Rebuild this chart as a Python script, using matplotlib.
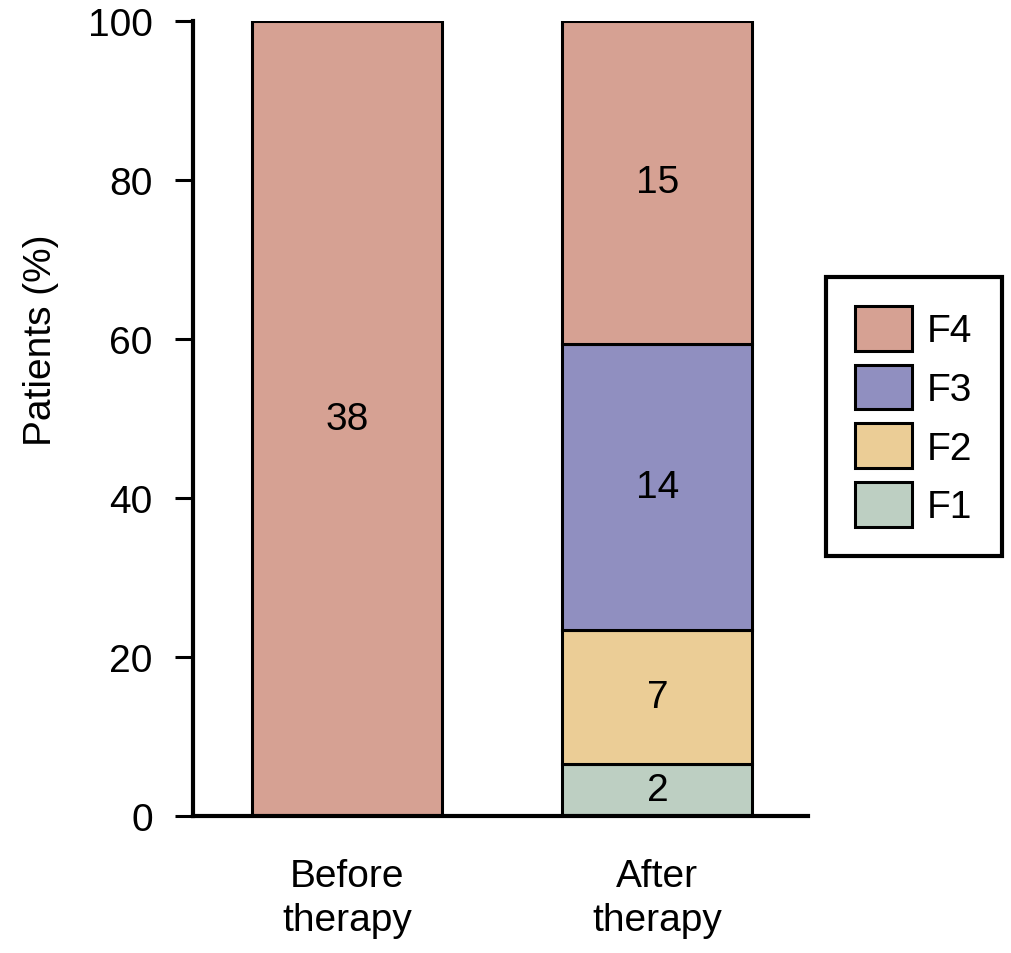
import matplotlib
matplotlib.use("Agg")
import matplotlib.pyplot as plt

# data
groups = ["Before\ntherapy", "After\ntherapy"]
stages = ["F1", "F2", "F3", "F4"]
# percent of patients per stage (bottom to top)
before_pct = [0, 0, 0, 100]
after_pct = [6.5, 16.9, 36.0, 40.6]
# patient counts shown inside the segments
before_n = [0, 0, 0, 38]
after_n = [2, 7, 14, 15]
colors = ["#bdcfc2", "#ebcd96", "#908fc0", "#d6a193"]
yticks = [0, 20, 40, 60, 80, 100]

plt.rcParams['font.family'] = ['Liberation Sans', 'DejaVu Sans']
fs = 28

fig = plt.figure(figsize=(10.11, 9.54), dpi=100)
ax = fig.add_axes([0.1909, 0.1436, 0.6083, 0.8333])

x = [0, 1]
width = 0.612
handles = []
bottoms = [0, 0]
for i, st in enumerate(stages):
    vals = [before_pct[i], after_pct[i]]
    counts = [before_n[i], after_n[i]]
    bars = ax.bar(x, vals, width, bottom=bottoms, color=colors[i],
                  edgecolor="black", linewidth=2.2, label=st, zorder=2)
    handles.append(bars)
    for j in range(2):
        if counts[j] > 0:
            ax.text(x[j], bottoms[j] + vals[j] / 2, str(counts[j]),
                    ha="center", va="center", fontsize=fs)
    bottoms = [bottoms[k] + vals[k] for k in range(2)]

ax.set_xlim(-0.496, 1.485)
ax.set_ylim(0, 100)
ax.set_yticks(yticks)
ax.set_xticks(x)
ax.set_xticklabels(groups, fontsize=fs, linespacing=1.3)
ax.tick_params(axis="x", length=0, pad=30)
ax.tick_params(axis="y", labelsize=fs, length=13, width=2.2, pad=16)
ax.set_ylabel("Patients (%)", fontsize=fs)
ax.yaxis.set_label_coords(-0.218, 0.6)

for side in ["top", "right"]:
    ax.spines[side].set_visible(False)
ax.spines["left"].set_linewidth(3)
ax.spines["bottom"].set_linewidth(3)
ax.spines["bottom"].set_zorder(3)

leg = fig.legend(handles[::-1], stages[::-1], loc="upper left",
                 bbox_to_anchor=(0.817, 0.7086), fontsize=fs,
                 handlelength=1.45, handleheight=1.39, labelspacing=0.36,
                 handletextpad=0.4, borderpad=0.75, borderaxespad=0,
                 fancybox=False, edgecolor="black", framealpha=1)
leg.get_frame().set_linewidth(3)

fig.savefig("out.png", dpi=100)
